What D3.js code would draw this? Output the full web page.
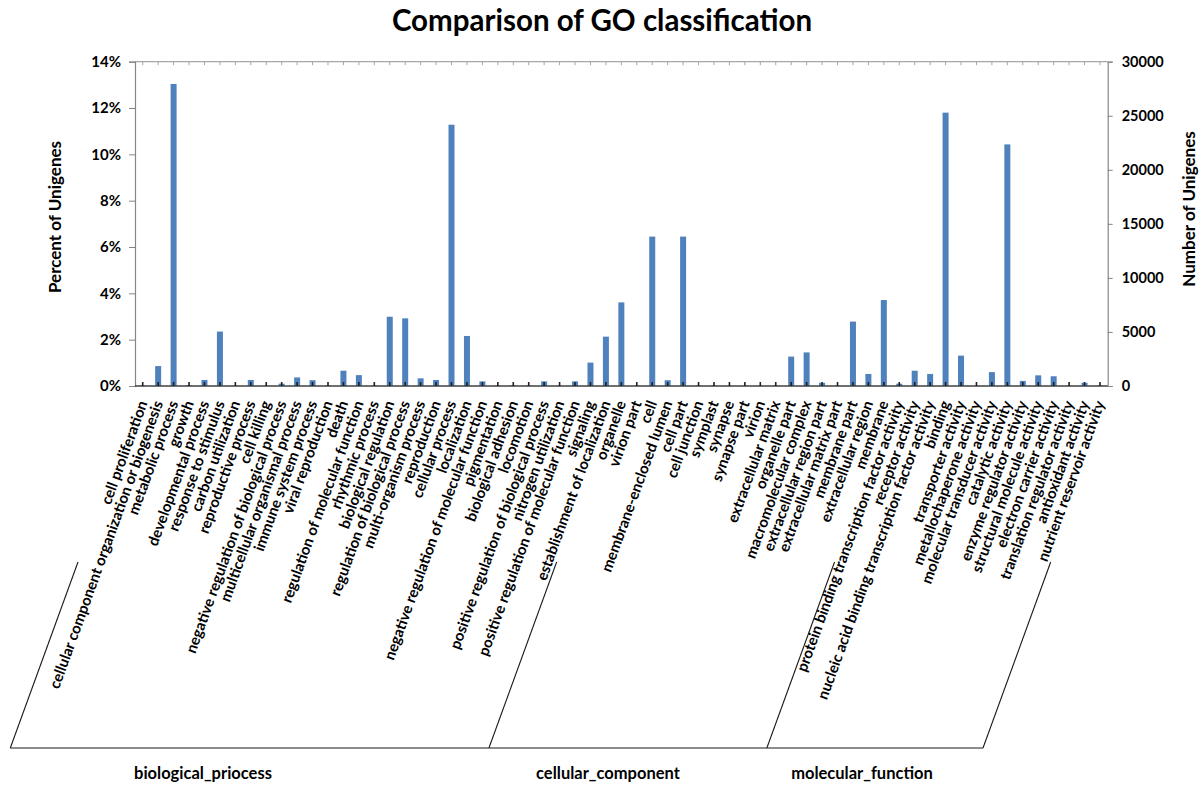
<!DOCTYPE html>
<html>
<head>
<meta charset="utf-8">
<script src="https://cdn.jsdelivr.net/npm/d3@7/dist/d3.min.js"></script>
<style>
  html, body { margin: 0; padding: 0; background: #fff; }
  svg { display: block; }
  text { font-family: Lato, "Open Sans", "DejaVu Sans", sans-serif; }
</style>
</head>
<body>
<svg id="chart" width="1200" height="785"></svg>
<script>
const categories = [
  "cell proliferation",
  "cellular component organization or biogenesis",
  "metabolic process",
  "growth",
  "developmental process",
  "response to stimulus",
  "carbon utilization",
  "reproductive process",
  "cell killing",
  "negative regulation of biological process",
  "multicellular organismal process",
  "immune system process",
  "viral reproduction",
  "death",
  "regulation of molecular function",
  "rhythmic process",
  "biological regulation",
  "regulation of biological process",
  "multi-organism process",
  "reproduction",
  "cellular process",
  "localization",
  "negative regulation of molecular function",
  "pigmentation",
  "biological adhesion",
  "locomotion",
  "positive regulation of biological process",
  "nitrogen utilization",
  "positive regulation of molecular function",
  "signaling",
  "establishment of localization",
  "organelle",
  "virion part",
  "cell",
  "membrane-enclosed lumen",
  "cell part",
  "cell junction",
  "symplast",
  "synapse",
  "synapse part",
  "virion",
  "extracellular matrix",
  "organelle part",
  "macromolecular complex",
  "extracellular region part",
  "extracellular matrix part",
  "membrane part",
  "extracellular region",
  "membrane",
  "protein binding transcription factor activity",
  "receptor activity",
  "nucleic acid binding transcription factor activity",
  "binding",
  "transporter activity",
  "metallochaperone activity",
  "molecular transducer activity",
  "catalytic activity",
  "enzyme regulator activity",
  "structural molecule activity",
  "electron carrier activity",
  "translation regulator activity",
  "antioxidant activity",
  "nutrient reservoir activity"
];

// Percent of Unigenes (%)
const percentValues = [
  0.02, 0.86, 13.04, 0.03, 0.26, 2.35, 0.01, 0.26, 0.01, 0.10,
  0.37, 0.25, 0.02, 0.66, 0.47, 0.02, 2.99, 2.92, 0.33, 0.26,
  11.28, 2.16, 0.20, 0.02, 0.03, 0.02, 0.20, 0.01, 0.20, 1.01,
  2.13, 3.61, 0.01, 6.45, 0.25, 6.45, 0.02, 0.02, 0.01, 0.01,
  0.01, 0.02, 1.27, 1.45, 0.14, 0.01, 2.78, 0.52, 3.71, 0.10,
  0.66, 0.52, 11.80, 1.31, 0.01, 0.60, 10.43, 0.22, 0.46, 0.42,
  0.01, 0.14, 0.02
];

const groupNames = ["biological_priocess", "cellular_component", "molecular_function"];
const groupSizes = [31, 18, 14];

const percentTicks = [0, 2, 4, 6, 8, 10, 12, 14];
const numberTicks = [0, 5000, 10000, 15000, 20000, 25000, 30000];

const titleText = "Comparison of GO classification";
const leftTitle = "Percent of Unigenes";
const rightTitle = "Number of Unigenes";

// ---------- layout ----------
const L = 135, R = 1107.7, T = 61.7, B = 386;
const svg = d3.select("#chart");

const x = d3.scaleBand().domain(categories).range([L, R]).paddingInner(0).paddingOuter(0);
const yP = d3.scaleLinear().domain([0, 14]).range([B, T]);
const yN = d3.scaleLinear().domain([0, 30000]).range([B, T]);
const barW = 6;

// title
svg.append("text")
  .attr("x", 602).attr("y", 31)
  .attr("text-anchor", "middle")
  .style("font-size", "29.5px").style("font-weight", "bold")
  .text(titleText);

// top frame line
svg.append("line")
  .attr("x1", L).attr("x2", R).attr("y1", T).attr("y2", T)
  .attr("stroke", "#a6a6a6").attr("stroke-width", 1.2);
svg.append("g").selectAll("line").data(categories).join("line")
  .attr("x1", d => x(d) + x.bandwidth() / 2).attr("x2", d => x(d) + x.bandwidth() / 2)
  .attr("y1", T).attr("y2", T + 3.5)
  .attr("stroke", "#a6a6a6").attr("stroke-width", 1);

// bars
svg.append("g").selectAll("rect").data(categories).join("rect")
  .attr("x", (d) => x(d) + x.bandwidth() / 2 - barW / 2)
  .attr("width", barW)
  .attr("y", (d, i) => yP(percentValues[i]))
  .attr("height", (d, i) => B - yP(percentValues[i]))
  .attr("fill", "#4f81bd");

// left axis
const leftAxis = svg.append("g").attr("transform", `translate(${L},0)`)
  .call(d3.axisLeft(yP).tickValues(percentTicks).tickFormat(d => d + "%").tickSize(6).tickPadding(8));
leftAxis.select(".domain").attr("stroke", "#868686").attr("stroke-width", 1.2);
leftAxis.selectAll(".tick line").attr("stroke", "#868686");
leftAxis.selectAll(".tick text")
  .style("font-size", "15px").style("font-weight", "bold").attr("fill", "#000")
  .style("font-family", "Lato, sans-serif");

// right axis
const rightAxis = svg.append("g").attr("transform", `translate(${R},0)`)
  .call(d3.axisRight(yN).tickValues(numberTicks).tickFormat(d3.format("d")).tickSize(5).tickPadding(9));
rightAxis.select(".domain").attr("stroke", "#868686").attr("stroke-width", 1.2);
rightAxis.selectAll(".tick line").attr("stroke", "#868686");
rightAxis.selectAll(".tick text")
  .style("font-size", "14.5px").style("font-weight", "bold").attr("fill", "#000")
  .style("font-family", "Lato, sans-serif");

// bottom axis line + inner ticks
svg.append("line")
  .attr("x1", L).attr("x2", R).attr("y1", B).attr("y2", B)
  .attr("stroke", "#404040").attr("stroke-width", 1.5);
svg.append("g").selectAll("line").data(categories).join("line")
  .attr("x1", d => x(d) + x.bandwidth() / 2).attr("x2", d => x(d) + x.bandwidth() / 2)
  .attr("y1", B).attr("y2", B - 4)
  .attr("stroke", "#202020").attr("stroke-width", 1.6);

// category labels
const ANG = -70;
svg.append("g").selectAll("text").data(categories).join("text")
  .attr("transform", d => `translate(${x(d) + x.bandwidth() / 2 + 5},${B + 17}) rotate(${ANG})`)
  .attr("text-anchor", "end")
  .style("font-size", "15px").style("font-weight", "bold")
  .text(d => d);

// axis titles
svg.append("text")
  .attr("transform", `translate(61,${217}) rotate(-90)`)
  .attr("text-anchor", "middle")
  .style("font-size", "17px").style("font-weight", "bold")
  .text(leftTitle);
svg.append("text")
  .attr("transform", `translate(1195,${209}) rotate(-90)`)
  .attr("text-anchor", "middle")
  .style("font-size", "17px").style("font-weight", "bold")
  .text(rightTitle);

// group brackets
const topY = 562, botY = 748;
const slant = (botY - topY) / Math.tan(70 * Math.PI / 180);
let boundaries = [L];
let acc = 0;
groupSizes.forEach(n => { acc += n; boundaries.push(acc < categories.length ? x(categories[acc]) : R); });
const br = svg.append("g").attr("stroke", "#1a1a1a").attr("stroke-width", 1.1).attr("fill", "none");
const bottomXs = [];
boundaries.forEach(bx => {
  const tx = bx - 57;
  const bxx = tx - slant;
  bottomXs.push(bxx);
  br.append("line").attr("x1", tx).attr("y1", topY).attr("x2", bxx).attr("y2", botY);
});
br.append("line").attr("x1", bottomXs[0]).attr("x2", bottomXs[bottomXs.length - 1])
  .attr("y1", botY).attr("y2", botY);

const groupLabelX = [203, 608, 862];
svg.append("g").selectAll("text").data(groupNames).join("text")
  .attr("x", (d, i) => groupLabelX[i]).attr("y", 779)
  .attr("text-anchor", "middle")
  .style("font-size", "16.5px").style("font-weight", "bold")
  .text(d => d);
</script>
</body>
</html>
